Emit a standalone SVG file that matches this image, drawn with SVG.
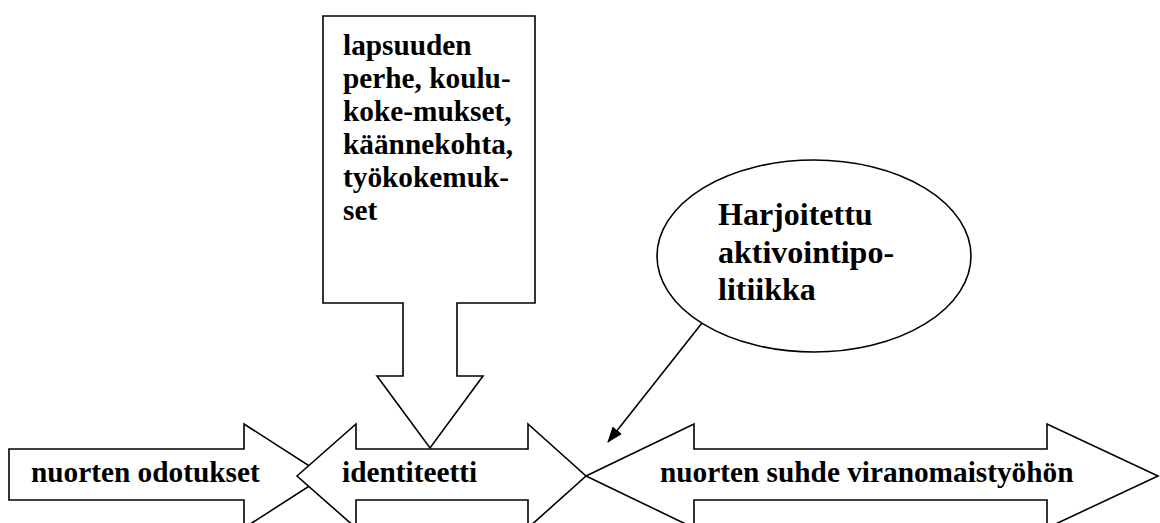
<svg xmlns="http://www.w3.org/2000/svg" width="1160" height="523" viewBox="0 0 1160 523">
<style>
.shape{fill:#fff;stroke:#000;stroke-width:1.6;stroke-linejoin:miter}
.t{font-family:"Liberation Serif","Times New Roman",serif;font-weight:bold;fill:#000}
.a{font-size:29.3px}
.e{font-size:32px}
.conn{stroke:#000;stroke-width:1.6;fill:none}
</style>
<defs>
<marker id="ah" markerWidth="16" markerHeight="12" refX="15" refY="6" orient="auto" markerUnits="userSpaceOnUse">
<path d="M0,0 L16,6 L0,12 Z" fill="#000"/>
</marker>
</defs>
<rect width="1160" height="523" fill="#fff"/>
<g id="node-odotukset">
<polygon class="shape" points="9,449 244,449 244,424 325,476 244,528 244,500 9,500"/>
<text class="t a" x="31" y="482">nuorten odotukset</text>
</g>
<g id="node-identiteetti">
<polygon class="shape" points="297,476 356,424 356,449 528,449 528,424 586,476 528,528 528,500 356,500 356,528"/>
<text class="t a" x="342" y="482">identiteetti</text>
</g>
<g id="node-suhde">
<polygon class="shape" points="586,476 694,424 694,449 1047,449 1047,424 1158,476 1047,528 1047,500 694,500 694,528"/>
<text class="t a" x="660" y="482">nuorten suhde viranomaistyöhön</text>
</g>
<g id="node-lapsuus">
<polygon class="shape" points="323,16 535,16 535,303 457,303 457,376 483,376 430,448 377,376 403,376 403,303 323,303"/>
<text class="t a" x="343" y="55">lapsuuden</text>
<text class="t a" x="343" y="88">perhe, koulu-</text>
<text class="t a" x="343" y="121">koke-mukset,</text>
<text class="t a" x="343" y="154">käännekohta,</text>
<text class="t a" x="343" y="187">työkokemuk-</text>
<text class="t a" x="343" y="220">set</text>
</g>
<g id="node-aktivointi">
<ellipse class="shape" cx="814" cy="256" rx="157" ry="96"/>
<text class="t e" x="718" y="225">Harjoitettu</text>
<text class="t e" x="718" y="263">aktivointipo-</text>
<text class="t e" x="718" y="300">litiikka</text>
</g>
<g id="connectors">
<line class="conn" x1="702" y1="323" x2="608" y2="442" marker-end="url(#ah)"/>
</g>
</svg>
